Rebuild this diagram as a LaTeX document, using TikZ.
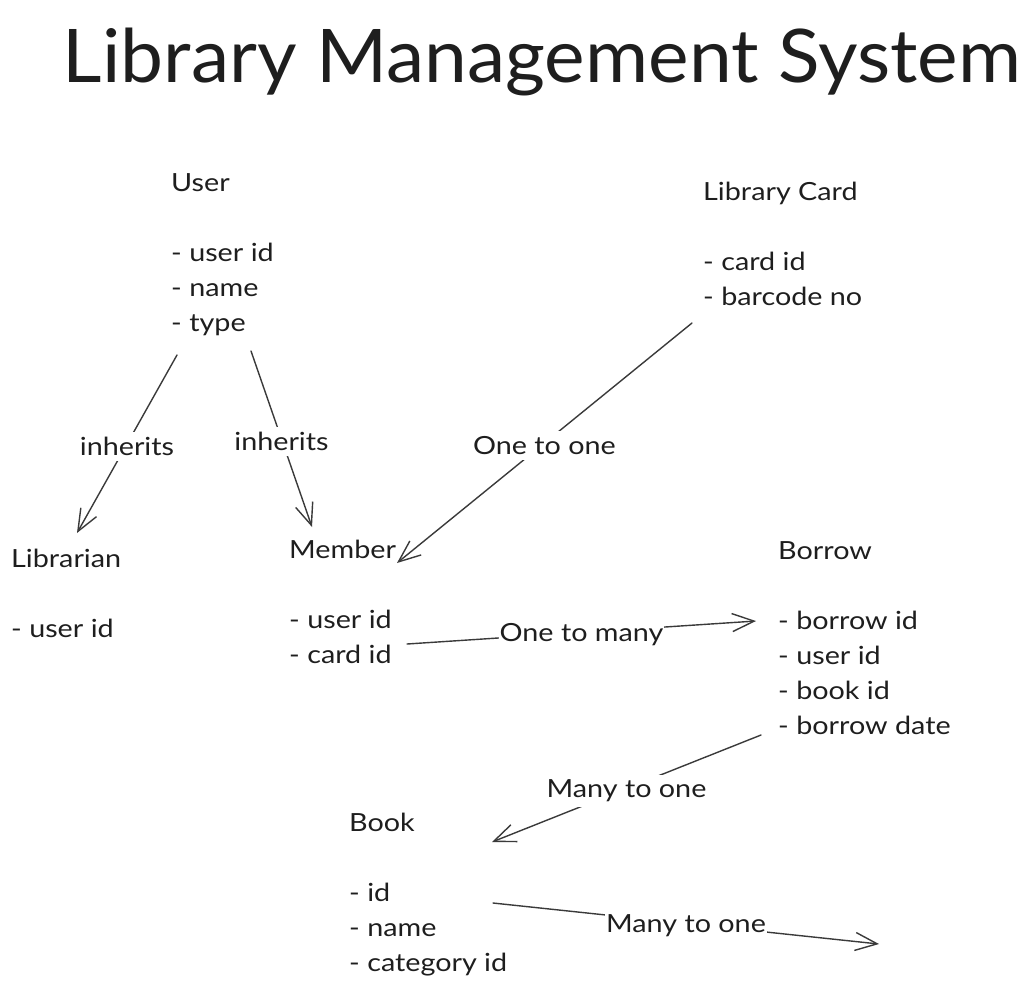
\documentclass[tikz,border=0pt]{standalone}
\usepackage{fontspec}
\setmainfont{Lato}
\newfontfamily\bodyfont[FakeStretch=1.15]{Lato}
\usepackage{graphicx}
\usetikzlibrary{arrows.meta,calc}
\definecolor{ink}{HTML}{1E1E1E}
\definecolor{wire}{HTML}{3A3A3A}
\tikzset{
  entity/.style={anchor=base west, inner sep=0pt, align=left, text=ink,
    font=\bodyfont\fontsize{25}{35}\selectfont},
  rel/.style={draw=wire, line width=1.4pt, line cap=round,
    -{Straight Barb[length=22pt, width=18pt, line width=1.4pt]}},
  lbl/.style={fill=white, text=ink, inner xsep=1pt, inner ysep=5pt, yshift=-2.5pt,
    font=\bodyfont\fontsize{25}{30}\selectfont}
}
\begin{document}
\begin{tikzpicture}[x=1pt, y=-1pt]
\useasboundingbox (0,0) rectangle (1035,989);
\node[anchor=base, inner sep=0pt, text=ink] (title) at (542,82)
  {\resizebox{958pt}{\height}{\fontsize{74}{80}\selectfont Library Management System}};
% entity nodes are anchored at the baseline of their last line
\node[entity] (user) at (171,331) {User\\[35pt]- user id\\- name\\- type};
\node[entity] (card) at (703,305) {Library Card\\[35pt]- card id\\- barcode no};
\node[entity] (librarian) at (11,637) {Librarian\\[35pt]- user id};
\node[entity] (member) at (289,663) {Member\\[35pt]- user id\\- card id};
\node[entity] (borrow) at (778,734) {Borrow\\[35pt]- borrow id\\- user id\\- book id\\- borrow date};
\node[entity] (book) at (349,971) {Book\\[35pt]- id\\- name\\- category id};
\coordinate (out) at ($(book.base west)+(530,-27)$);

\draw[rel] ($(user.base west)+(6,24)$) -- node[lbl] {inherits} ($(librarian.base west)+(66,-104)$);
\draw[rel] ($(user.base west)+(80,20)$) -- node[lbl] {inherits} ($(member.base west)+(23,-136)$);
\draw[rel] ($(card.base west)+(-11,18)$) -- node[lbl] {One to one} ($(member.base west)+(108,-100)$);
\draw[rel] ($(member.base west)+(118,-19)$) -- node[lbl] {One to many} ($(borrow.base west)+(-22,-113)$);
\draw[rel] ($(borrow.base west)+(-17,1)$) -- node[lbl] {Many to one} ($(book.base west)+(143,-129)$);
\draw[rel] ($(book.base west)+(144,-68)$) -- node[lbl] {Many to one} (out);
\end{tikzpicture}
\end{document}
